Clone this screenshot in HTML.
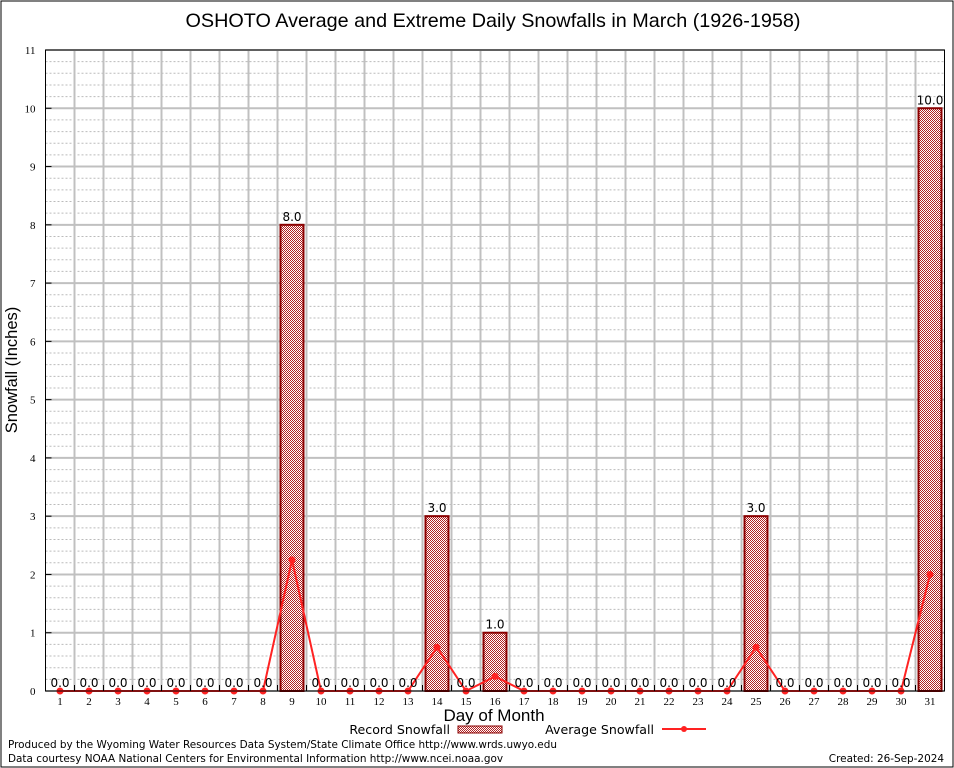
<!DOCTYPE html>
<html><head><meta charset="utf-8"><style>
body{margin:0;background:#fff;}
svg{display:block;font-family:"Liberation Sans",sans-serif;}
.dv{font-family:"DejaVu Sans",sans-serif;}
</style></head><body>
<svg id="chart" width="954" height="768" viewBox="0 0 954 768">
<defs>
<pattern id="chk" width="2" height="2" patternUnits="userSpaceOnUse">
<rect width="2" height="2" fill="#fff"/><rect width="1" height="1" fill="#b22222"/><rect x="1" y="1" width="1" height="1" fill="#b22222"/>
</pattern>
</defs>
<rect x="1" y="1" width="952" height="766" fill="#fff" stroke="#000"/>
<text x="493" y="27" font-size="19.8" text-anchor="middle">OSHOTO Average and Extreme Daily Snowfalls in March (1926-1958)</text>
<g id="grid"></g>
<g id="bars"></g>
<g id="line"></g>
<g id="labels"></g>
<g id="axes"></g>
<text transform="translate(17,370) rotate(-90)" font-size="16.5" text-anchor="middle">Snowfall (Inches)</text>
<text x="494" y="721" font-size="17" text-anchor="middle">Day of Month</text>
<g>
<text class="dv" x="450" y="734" font-size="12.6" text-anchor="end">Record Snowfall</text>
<rect x="458" y="726" width="44" height="7" fill="url(#chk)" stroke="#8b0000"/>
</g>
<g>
<text class="dv" x="654" y="734" font-size="12.6" text-anchor="end">Average Snowfall</text>
<line x1="662" y1="729" x2="706" y2="729" stroke="#f22" stroke-width="2"/>
<circle cx="684" cy="729" r="3" fill="#f22"/>
</g>
<text class="dv" x="8" y="748" font-size="10.45">Produced by the Wyoming Water Resources Data System/State Climate Office http://www.wrds.uwyo.edu</text>
<text class="dv" x="8" y="762" font-size="10.45">Data courtesy NOAA National Centers for Environmental Information http://www.ncei.noaa.gov</text>
<text class="dv" x="944" y="762" font-size="10.45" text-anchor="end">Created:  26-Sep-2024</text>
</svg>
<script>
const days=[1,2,3,4,5,6,7,8,9,10,11,12,13,14,15,16,17,18,19,20,21,22,23,24,25,26,27,28,29,30,31];
const recordSnow=[0,0,0,0,0,0,0,0,8,0,0,0,0,3,0,1,0,0,0,0,0,0,0,0,3,0,0,0,0,0,10];
const avgSnow=[0,0,0,0,0,0,0,0,2.25,0,0,0,0,0.75,0,0.25,0,0,0,0,0,0,0,0,0.75,0,0,0,0,0,2.0];
const yTicks=[0,1,2,3,4,5,6,7,8,9,10,11];
const L=45.5,R=944.5,T=50,B=691,YMAX=11,BW=(R-L)/days.length;
const NS="http://www.w3.org/2000/svg";
const xs=d=>L+BW*(d-0.5);
const ys=v=>B-(B-T)*v/YMAX;
function mk(p,tag,a){const e=document.createElementNS(NS,tag);for(const k in a)e.setAttribute(k,a[k]);p.appendChild(e);return e;}
const grid=document.getElementById('grid'),bars=document.getElementById('bars'),line=document.getElementById('line'),labels=document.getElementById('labels'),axes=document.getElementById('axes');
for(let v=0;v<YMAX;v+=0.2){const y=ys(v);if(Math.abs(v-Math.round(v))<1e-6)continue;
const g=mk(grid,'line',{x1:L,x2:R,y1:y,y2:y,stroke:'#bbb','stroke-dasharray':'2,2','stroke-width':1});

}
yTicks.forEach(v=>{const y=ys(v);
const g=mk(grid,'line',{x1:L,x2:R,y1:y,y2:y,stroke:'#c0c0c0','stroke-width':2});


const t=mk(axes,'text',{x:L-10,y:y+4,'font-size':11,'text-anchor':'end','font-family':'Liberation Serif, serif'});t.textContent=v;


mk(axes,'line',{x1:L,x2:L+6,y1:y,y2:y,stroke:'#000'});});
for(let i=1;i<days.length;i++){const x=L+BW*i;
const g=mk(grid,'line',{x1:x,x2:x,y1:T,y2:B,stroke:'#c0c0c0','stroke-width':2});


mk(axes,'line',{x1:x,x2:x,y1:B,y2:B-6,stroke:'#000'});}
days.forEach((d,i)=>{const v=recordSnow[i];
if(v>0){const r=mk(bars,'rect',{x:xs(d)-11.5,y:ys(v),width:23,height:B-ys(v),fill:'url(#chk)',stroke:'#8b0000','stroke-width':2});

}
const t=mk(labels,'text',{x:xs(d),y:ys(v)-4,'font-size':12,'text-anchor':'middle','font-family':'DejaVu Sans, sans-serif'});t.textContent=v.toFixed(1);


const xl=mk(axes,'text',{x:xs(d),y:B+14,'font-size':11,'text-anchor':'middle','font-family':'Liberation Serif, serif'});xl.textContent=d;

});
const pl=mk(line,'polyline',{points:days.map((d,i)=>xs(d)+','+ys(avgSnow[i])).join(' '),fill:'none',stroke:'#f22','stroke-width':2});


days.forEach((d,i)=>{const c=mk(line,'circle',{cx:xs(d),cy:ys(avgSnow[i]),r:3.5,fill:'#f22'});

});
const fr=mk(axes,'rect',{x:L,y:T,width:R-L,height:B-T,fill:'none',stroke:'#000','stroke-width':1});


</script>
</body></html>
